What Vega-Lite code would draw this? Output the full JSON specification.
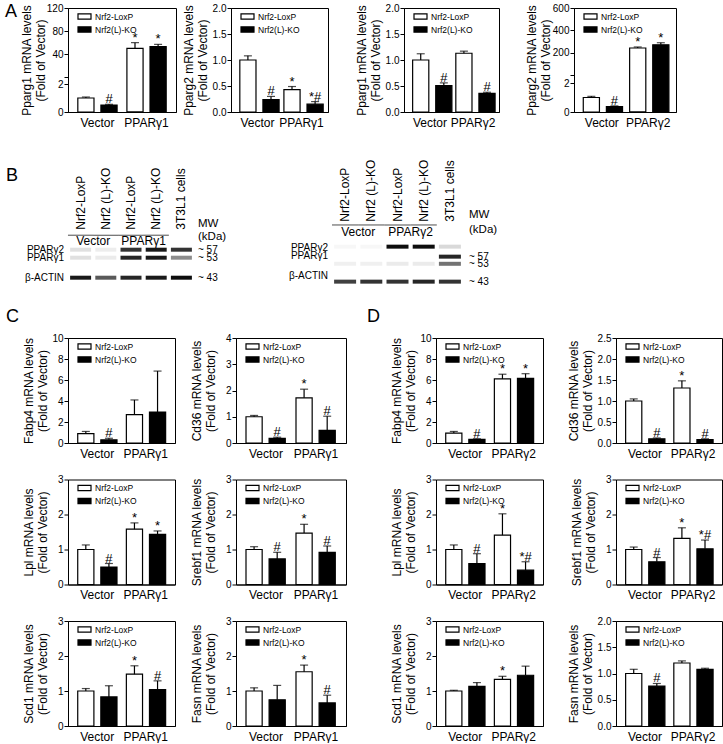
{
"$schema":"https://vega.github.io/schema/vega-lite/v6.json",
"padding":{"left":4,"top":2,"right":0,"bottom":0},
"config":{
 "font":"Liberation Sans",
 "view":{"stroke":"black","strokeWidth":1},
 "bar":{"stroke":"black","strokeWidth":1.2},
 "rule":{"color":"black","strokeWidth":1.2},
 "tick":{"color":"black","thickness":1.2,"size":8},
 "text":{"color":"black","fontSize":13},
 "scale":{"bandPaddingInner":0.36,"bandPaddingOuter":0.2,"offsetBandPaddingInner":0.3,"offsetBandPaddingOuter":0},
 "axis":{"grid":false,"domainColor":"black","tickColor":"black","labelColor":"black","titleColor":"black","titleFontWeight":"normal","domainWidth":1,"tickWidth":1},
 "axisX":{"ticks":false,"labelAngle":0,"labelFontSize":12,"labelPadding":5},
 "axisY":{"tickSize":4,"labelFontSize":10,"labelPadding":1,"titleFontSize":12,"titlePadding":2,"titleLineHeight":14,"titleX":-33},
 "legend":{"orient":"none","legendX":9,"legendY":1,"padding":0,"symbolType":"M-1,-0.4H1V0.4H-1Z","symbolSize":169,"symbolStrokeColor":"black","symbolStrokeWidth":1,"labelFontSize":8.5,"labelOffset":3,"rowPadding":0,"labelColor":"black"},
 "title":{"fontSize":18,"fontWeight":"normal","anchor":"start","frame":"group","baseline":"alphabetic","color":"black"}
},
"spacing":0,
"resolve":{"scale":{"fill":"independent","opacity":"independent"},"legend":{"fill":"independent"}},
"vconcat":[
{"spacing":0,"bounds":"flush",
 "resolve":{"scale":{"fill":"independent"},"legend":{"fill":"independent"}},
 "hconcat":[
{"width":108,"height":104,
 "title":{"text":"A","dx":-63,"offset":-17.7},
 "data":{"values":[{"g":"Vector","s":"Nrf2-LoxP","v":1.0,"hi":1.07,"sig":""},{"g":"Vector","s":"Nrf2(L)-KO","v":0.5,"hi":0.55,"sig":"#"},{"g":"PPARγ1","s":"Nrf2-LoxP","v":50,"hi":60,"sig":"*"},{"g":"PPARγ1","s":"Nrf2(L)-KO","v":53,"hi":57,"sig":"*"}]},
 "encoding":{"x":{"field":"g","type":"nominal","scale":{"domain":["Vector","PPARγ1"]},"title":null},"xOffset":{"field":"s","type":"nominal","scale":{"domain":["Nrf2-LoxP","Nrf2(L)-KO"]}}},
 "layer":[
  {"transform":[{"filter":"datum.v <= 2"}],
   "encoding":{"y":{"field":"v","type":"quantitative","scale":{"domain":[0,2],"range":[104,76],"nice":false},"axis":{"orient":"left","values":[0,1,2],"format":"d","title":null}}},
   "layer":[
    {"mark":"bar","encoding":{"fill":{"field":"s","type":"nominal","scale":{"domain":["Nrf2-LoxP","Nrf2(L)-KO"],"range":["white","black"]},"legend":{"title":null}}}},
    {"mark":"rule","encoding":{"y2":{"field":"hi"}}},
    {"mark":"tick","encoding":{"y":{"field":"hi","type":"quantitative"}}},
    {"mark":{"type":"text","baseline":"alphabetic","dy":-1},"encoding":{"y":{"field":"hi","type":"quantitative"},"text":{"field":"sig"}}}]},
  {"transform":[{"filter":"datum.v > 2"}],
   "encoding":{"y":{"field":"v","type":"quantitative","scale":{"domain":[-3,120],"range":[71,0],"nice":false,"zero":false},"axis":{"orient":"left","values":[0,40,80,120],"format":"d","labelExpr":"datum.value == 0 ? '' : datum.label","title":["Pparg1 mRNA levels","(Fold of Vector)"],"titleY":52,"titleX":-35}}},
   "layer":[
    {"mark":"bar","encoding":{"y2":{"datum":-60},"fill":{"field":"s","type":"nominal","scale":{"domain":["Nrf2-LoxP","Nrf2(L)-KO"],"range":["white","black"]},"legend":{"title":null}}}},
    {"mark":"rule","encoding":{"y2":{"field":"hi"}}},
    {"mark":"tick","encoding":{"y":{"field":"hi","type":"quantitative"}}},
    {"mark":{"type":"text","baseline":"alphabetic","dy":-1},"encoding":{"y":{"field":"hi","type":"quantitative"},"text":{"field":"sig"}}}]}],
 "resolve":{"scale":{"y":"independent"},"axis":{"y":"independent"}}},
{"width":55,"height":1,"view":{"stroke":null},"data":{"values":[]},"mark":"point"},
{"width":97,"height":104,
 "data":{"values":[{"g":"Vector","s":"Nrf2-LoxP","v":1.0,"hi":1.08,"sig":""},{"g":"Vector","s":"Nrf2(L)-KO","v":0.24,"hi":0.3,"sig":"#"},{"g":"PPARγ1","s":"Nrf2-LoxP","v":0.43,"hi":0.49,"sig":"*"},{"g":"PPARγ1","s":"Nrf2(L)-KO","v":0.15,"hi":0.2,"sig":"*#"}]},
 "encoding":{"x":{"field":"g","type":"nominal","scale":{"domain":["Vector","PPARγ1"]},"title":null},"xOffset":{"field":"s","type":"nominal","scale":{"domain":["Nrf2-LoxP","Nrf2(L)-KO"]}},"y":{"field":"v","type":"quantitative","scale":{"domain":[0,2],"nice":false},"axis":{"values":[0,0.5,1,1.5,2],"format":".1f","titleX":-36,"title":["Pparg2 mRNA levels","(Fold of Vector)"]}}},
 "layer":[
  {"mark":"bar","encoding":{"fill":{"field":"s","type":"nominal","scale":{"domain":["Nrf2-LoxP","Nrf2(L)-KO"],"range":["white","black"]},"legend":{"title":null}}}},
  {"mark":"rule","encoding":{"y2":{"field":"hi"}}},
  {"mark":"tick","encoding":{"y":{"field":"hi","type":"quantitative"}}},
  {"mark":{"type":"text","baseline":"alphabetic","dy":-1},"encoding":{"y":{"field":"hi","type":"quantitative"},"text":{"field":"sig"}}}]},
{"width":76,"height":1,"view":{"stroke":null},"data":{"values":[]},"mark":"point"},
{"width":95,"height":104,
 "data":{"values":[{"g":"Vector","s":"Nrf2-LoxP","v":1.0,"hi":1.12,"sig":""},{"g":"Vector","s":"Nrf2(L)-KO","v":0.51,"hi":0.56,"sig":"#"},{"g":"PPARγ2","s":"Nrf2-LoxP","v":1.13,"hi":1.17,"sig":""},{"g":"PPARγ2","s":"Nrf2(L)-KO","v":0.36,"hi":0.38,"sig":"#"}]},
 "encoding":{"x":{"field":"g","type":"nominal","scale":{"domain":["Vector","PPARγ2"]},"title":null},"xOffset":{"field":"s","type":"nominal","scale":{"domain":["Nrf2-LoxP","Nrf2(L)-KO"]}},"y":{"field":"v","type":"quantitative","scale":{"domain":[0,2],"nice":false},"axis":{"values":[0,0.5,1,1.5,2],"format":".1f","titleX":-36,"title":["Pparg1 mRNA levels","(Fold of Vector)"]}}},
 "layer":[
  {"mark":"bar","encoding":{"fill":{"field":"s","type":"nominal","scale":{"domain":["Nrf2-LoxP","Nrf2(L)-KO"],"range":["white","black"]},"legend":{"title":null}}}},
  {"mark":"rule","encoding":{"y2":{"field":"hi"}}},
  {"mark":"tick","encoding":{"y":{"field":"hi","type":"quantitative"}}},
  {"mark":{"type":"text","baseline":"alphabetic","dy":-1},"encoding":{"y":{"field":"hi","type":"quantitative"},"text":{"field":"sig"}}}]},
{"width":75,"height":1,"view":{"stroke":null},"data":{"values":[]},"mark":"point"},
{"width":102,"height":104,
 "data":{"values":[{"g":"Vector","s":"Nrf2-LoxP","v":1.0,"hi":1.08,"sig":""},{"g":"Vector","s":"Nrf2(L)-KO","v":0.38,"hi":0.42,"sig":"#"},{"g":"PPARγ2","s":"Nrf2-LoxP","v":242,"hi":251,"sig":"*"},{"g":"PPARγ2","s":"Nrf2(L)-KO","v":271,"hi":289,"sig":"*"}]},
 "encoding":{"x":{"field":"g","type":"nominal","scale":{"domain":["Vector","PPARγ2"]},"title":null},"xOffset":{"field":"s","type":"nominal","scale":{"domain":["Nrf2-LoxP","Nrf2(L)-KO"]}}},
 "layer":[
  {"transform":[{"filter":"datum.v <= 2"}],
   "encoding":{"y":{"field":"v","type":"quantitative","scale":{"domain":[0,2],"range":[104,75],"nice":false},"axis":{"orient":"left","values":[0,1,2],"format":"d","title":null}}},
   "layer":[
    {"mark":"bar","encoding":{"fill":{"field":"s","type":"nominal","scale":{"domain":["Nrf2-LoxP","Nrf2(L)-KO"],"range":["white","black"]},"legend":{"title":null}}}},
    {"mark":"rule","encoding":{"y2":{"field":"hi"}}},
    {"mark":"tick","encoding":{"y":{"field":"hi","type":"quantitative"}}},
    {"mark":{"type":"text","baseline":"alphabetic","dy":-1},"encoding":{"y":{"field":"hi","type":"quantitative"},"text":{"field":"sig"}}}]},
  {"transform":[{"filter":"datum.v > 2"}],
   "encoding":{"y":{"field":"v","type":"quantitative","scale":{"domain":[0,600],"range":[67,0],"nice":false,"zero":false},"axis":{"orient":"left","values":[0,200,400,600],"format":"d","labelExpr":"datum.value == 0 ? '' : datum.label","title":["Pparg2 mRNA levels","(Fold of Vector)"],"titleY":52,"titleX":-36}}},
   "layer":[
    {"mark":"bar","encoding":{"y2":{"datum":-331},"fill":{"field":"s","type":"nominal","scale":{"domain":["Nrf2-LoxP","Nrf2(L)-KO"],"range":["white","black"]},"legend":{"title":null}}}},
    {"mark":"rule","encoding":{"y2":{"field":"hi"}}},
    {"mark":"tick","encoding":{"y":{"field":"hi","type":"quantitative"}}},
    {"mark":{"type":"text","baseline":"alphabetic","dy":-1},"encoding":{"y":{"field":"hi","type":"quantitative"},"text":{"field":"sig"}}}]}],
 "resolve":{"scale":{"y":"independent"},"axis":{"y":"independent"}}}
]},

{"spacing":0,"bounds":"flush",
 "resolve":{"scale":{"opacity":"independent"}},
 "hconcat":[
{"width":126,"height":178,"view":{"stroke":null},
 "title":{"text":"B","dx":-62,"offset":-56},
 "layer":[
  {"data":{"values":[
    {"lane":"L1","kDa":57,"signal":0.12},{"lane":"L2","kDa":57,"signal":0.07},{"lane":"L3","kDa":57,"signal":0.8},{"lane":"L4","kDa":57,"signal":0.9},{"lane":"L5","kDa":57,"signal":0.8},
    {"lane":"L1","kDa":53,"signal":0.12},{"lane":"L2","kDa":53,"signal":0.08},{"lane":"L3","kDa":53,"signal":0.85},{"lane":"L4","kDa":53,"signal":0.9},{"lane":"L5","kDa":53,"signal":0.45},
    {"lane":"L1","kDa":43,"signal":0.9},{"lane":"L2","kDa":43,"signal":0.65},{"lane":"L3","kDa":43,"signal":0.85},{"lane":"L4","kDa":43,"signal":0.9},{"lane":"L5","kDa":43,"signal":0.95}]},
   "mark":{"type":"tick","orient":"horizontal","thickness":4,"size":21,"color":"black"},
   "encoding":{"x":{"field":"lane","type":"nominal","scale":{"domain":["L1","L2","L3","L4","L5"],"paddingInner":0,"paddingOuter":0},"axis":null},
    "y":{"field":"kDa","type":"quantitative","scale":{"domain":[28.35,117.35],"nice":false,"zero":false},"axis":null},
    "opacity":{"field":"signal","type":"quantitative","scale":{"domain":[0,1],"range":[0,1]},"legend":null}}},
  {"data":{"values":[{"lane":"L1","sample":"Nrf2-LoxP","grp":"Vector"},{"lane":"L2","sample":"Nrf2 (L)-KO","grp":"Vector"},{"lane":"L3","sample":"Nrf2-LoxP","grp":"PPARγ1"},{"lane":"L4","sample":"Nrf2 (L)-KO","grp":"PPARγ1"},{"lane":"L5","sample":"3T3L1 cells","grp":""}]},
   "mark":{"type":"text","angle":270,"align":"left","baseline":"middle","fontSize":12},
   "encoding":{"x":{"field":"lane","type":"nominal","axis":null},"y":{"datum":67.0,"type":"quantitative","axis":null},"text":{"field":"sample"}}},
  {"data":{"values":[{"lane":"L1","grp":"Vector"},{"lane":"L2","grp":"Vector"},{"lane":"L3","grp":"PPARγ1"},{"lane":"L4","grp":"PPARγ1"}]},
   "mark":{"type":"tick","orient":"horizontal","thickness":1,"size":25.3,"color":"black"},
   "encoding":{"x":{"field":"lane","type":"nominal","axis":null},"y":{"datum":64.25,"type":"quantitative","axis":null}}},
  {"data":{"values":[{"lane":"L2","grp":"Vector"},{"lane":"L4","grp":"PPARγ1"}]},
   "mark":{"type":"text","baseline":"middle","align":"center","fontSize":12},
   "encoding":{"x":{"field":"lane","type":"nominal","bandPosition":0,"axis":null},"y":{"datum":61.25,"type":"quantitative","axis":null},"text":{"field":"grp"}}},
  {"data":{"values":[{"lab":"PPARγ2","kDa":57},{"lab":"PPARγ1","kDa":53},{"lab":"β-ACTIN","kDa":43}]},
   "mark":{"type":"text","align":"right","baseline":"middle","fontSize":10,"dx":-4},
   "encoding":{"x":{"datum":"L1","bandPosition":0,"axis":null},"y":{"field":"kDa","type":"quantitative","axis":null},"text":{"field":"lab"}}},
  {"data":{"values":[{"lab":"~ 57","kDa":57},{"lab":"~ 53","kDa":53},{"lab":"~ 43","kDa":43}]},
   "mark":{"type":"text","align":"left","baseline":"middle","fontSize":10,"dx":4},
   "encoding":{"x":{"datum":"L5","bandPosition":1,"axis":null},"y":{"field":"kDa","type":"quantitative","axis":null},"text":{"field":"lab"}}},
  {"data":{"values":[{"t":"MW"}]},
   "mark":{"type":"text","align":"left","baseline":"middle","fontSize":11.5,"dx":4},
   "encoding":{"x":{"datum":"L5","bandPosition":1,"axis":null},"y":{"datum":69.75,"type":"quantitative","axis":null},"text":{"field":"t"}}},
  {"data":{"values":[{"t":"(kDa)"}]},
   "mark":{"type":"text","align":"left","baseline":"middle","fontSize":11.5,"dx":4},
   "encoding":{"x":{"datum":"L5","bandPosition":1,"axis":null},"y":{"datum":63.5,"type":"quantitative","axis":null},"text":{"field":"t"}}}]},
{"width":138,"height":1,"view":{"stroke":null},"data":{"values":[]},"mark":"point"},
{"width":131,"height":178,"view":{"stroke":null},
 "layer":[
  {"data":{"values":[
    {"lane":"L1","kDa":62.6,"signal":0.03},{"lane":"L2","kDa":62.6,"signal":0.03},{"lane":"L3","kDa":62.6,"signal":0.95},{"lane":"L4","kDa":62.6,"signal":0.95},{"lane":"L5","kDa":62.6,"signal":0.15},
    {"lane":"L5","kDa":57,"signal":0.85},
    {"lane":"L1","kDa":53,"signal":0.06},{"lane":"L2","kDa":53,"signal":0.06},{"lane":"L3","kDa":53,"signal":0.08},{"lane":"L4","kDa":53,"signal":0.08},{"lane":"L5","kDa":53,"signal":0.55},
    {"lane":"L1","kDa":43,"signal":0.75},{"lane":"L2","kDa":43,"signal":0.8},{"lane":"L3","kDa":43,"signal":0.8},{"lane":"L4","kDa":43,"signal":0.85},{"lane":"L5","kDa":43,"signal":0.8}]},
   "mark":{"type":"tick","orient":"horizontal","thickness":4,"size":22,"color":"black"},
   "encoding":{"x":{"field":"lane","type":"nominal","scale":{"domain":["L1","L2","L3","L4","L5"],"paddingInner":0,"paddingOuter":0},"axis":null},
    "y":{"field":"kDa","type":"quantitative","scale":{"domain":[28.8,128.5],"nice":false,"zero":false},"axis":null},
    "opacity":{"field":"signal","type":"quantitative","scale":{"domain":[0,1],"range":[0,1]},"legend":null}}},
  {"data":{"values":[{"lane":"L1","sample":"Nrf2-LoxP","grp":"Vector"},{"lane":"L2","sample":"Nrf2 (L)-KO","grp":"Vector"},{"lane":"L3","sample":"Nrf2-LoxP","grp":"PPARγ2"},{"lane":"L4","sample":"Nrf2 (L)-KO","grp":"PPARγ2"},{"lane":"L5","sample":"3T3L1 cells","grp":""}]},
   "mark":{"type":"text","angle":270,"align":"left","baseline":"middle","fontSize":12},
   "encoding":{"x":{"field":"lane","type":"nominal","axis":null},"y":{"datum":76.6,"type":"quantitative","axis":null},"text":{"field":"sample"}}},
  {"data":{"values":[{"lane":"L1","grp":"Vector"},{"lane":"L2","grp":"Vector"},{"lane":"L3","grp":"PPARγ2"},{"lane":"L4","grp":"PPARγ2"}]},
   "mark":{"type":"tick","orient":"horizontal","thickness":1,"size":26.2,"color":"black"},
   "encoding":{"x":{"field":"lane","type":"nominal","axis":null},"y":{"datum":74.75,"type":"quantitative","axis":null}}},
  {"data":{"values":[{"lane":"L2","grp":"Vector"},{"lane":"L4","grp":"PPARγ2"}]},
   "mark":{"type":"text","baseline":"middle","align":"center","fontSize":12},
   "encoding":{"x":{"field":"lane","type":"nominal","bandPosition":0,"axis":null},"y":{"datum":71.0,"type":"quantitative","axis":null},"text":{"field":"grp"}}},
  {"data":{"values":[{"lab":"PPARγ2","kDa":62.0},{"lab":"PPARγ1","kDa":57.6},{"lab":"β-ACTIN","kDa":46}]},
   "mark":{"type":"text","align":"right","baseline":"middle","fontSize":10,"dx":-4},
   "encoding":{"x":{"datum":"L1","bandPosition":0,"axis":null},"y":{"field":"kDa","type":"quantitative","axis":null},"text":{"field":"lab"}}},
  {"data":{"values":[{"lab":"~ 57","kDa":57},{"lab":"~ 53","kDa":53},{"lab":"~ 43","kDa":43}]},
   "mark":{"type":"text","align":"left","baseline":"middle","fontSize":10,"dx":6},
   "encoding":{"x":{"datum":"L5","bandPosition":1,"axis":null},"y":{"field":"kDa","type":"quantitative","axis":null},"text":{"field":"lab"}}},
  {"data":{"values":[{"t":"MW"}]},
   "mark":{"type":"text","align":"left","baseline":"middle","fontSize":11.5,"dx":6},
   "encoding":{"x":{"datum":"L5","bandPosition":1,"axis":null},"y":{"datum":80.5,"type":"quantitative","axis":null},"text":{"field":"t"}}},
  {"data":{"values":[{"t":"(kDa)"}]},
   "mark":{"type":"text","align":"left","baseline":"middle","fontSize":11.5,"dx":6},
   "encoding":{"x":{"datum":"L5","bandPosition":1,"axis":null},"y":{"datum":72.1,"type":"quantitative","axis":null},"text":{"field":"t"}}}]}
]},

{"columns":7,"spacing":{"row":36.5,"column":0},"bounds":"flush",
 "resolve":{"scale":{"fill":"independent"},"legend":{"fill":"independent"}},
 "concat":[
{"width":107,"height":105,
 "title":{"text":"C","dx":-62,"offset":7.5},
 "data":{"values":[{"g":"Vector","s":"Nrf2-LoxP","v":0.9,"hi":1.1,"sig":""},{"g":"Vector","s":"Nrf2(L)-KO","v":0.3,"hi":0.45,"sig":"#"},{"g":"PPARγ1","s":"Nrf2-LoxP","v":2.7,"hi":4.1,"sig":""},{"g":"PPARγ1","s":"Nrf2(L)-KO","v":2.95,"hi":6.85,"sig":""}]},
 "encoding":{"x":{"field":"g","type":"nominal","scale":{"domain":["Vector","PPARγ1"]},"title":null},"xOffset":{"field":"s","type":"nominal","scale":{"domain":["Nrf2-LoxP","Nrf2(L)-KO"]}},"y":{"field":"v","type":"quantitative","scale":{"domain":[0,10],"nice":false},"axis":{"values":[0,2,4,6,8,10],"format":"d","title":["Fabp4 mRNA levels","(Fold of Vector)"]}}},
 "layer":[
  {"mark":"bar","encoding":{"fill":{"field":"s","type":"nominal","scale":{"domain":["Nrf2-LoxP","Nrf2(L)-KO"],"range":["white","black"]},"legend":{"title":null}}}},
  {"mark":"rule","encoding":{"y2":{"field":"hi"}}},
  {"mark":"tick","encoding":{"y":{"field":"hi","type":"quantitative"}}},
  {"mark":{"type":"text","baseline":"alphabetic","dy":-1},"encoding":{"y":{"field":"hi","type":"quantitative"},"text":{"field":"sig"}}}]},
{"width":61,"height":1,"view":{"stroke":null},"data":{"values":[]},"mark":"point"},
{"width":110,"height":105,
 "data":{"values":[{"g":"Vector","s":"Nrf2-LoxP","v":1.0,"hi":1.05,"sig":""},{"g":"Vector","s":"Nrf2(L)-KO","v":0.18,"hi":0.22,"sig":"#"},{"g":"PPARγ1","s":"Nrf2-LoxP","v":1.72,"hi":2.05,"sig":"*"},{"g":"PPARγ1","s":"Nrf2(L)-KO","v":0.48,"hi":1.02,"sig":"#"}]},
 "encoding":{"x":{"field":"g","type":"nominal","scale":{"domain":["Vector","PPARγ1"]},"title":null},"xOffset":{"field":"s","type":"nominal","scale":{"domain":["Nrf2-LoxP","Nrf2(L)-KO"]}},"y":{"field":"v","type":"quantitative","scale":{"domain":[0,4],"nice":false},"axis":{"values":[0,1,2,3,4],"format":"d","title":["Cd36 mRNA levels","(Fold of Vector)"]}}},
 "layer":[
  {"mark":"bar","encoding":{"fill":{"field":"s","type":"nominal","scale":{"domain":["Nrf2-LoxP","Nrf2(L)-KO"],"range":["white","black"]},"legend":{"title":null}}}},
  {"mark":"rule","encoding":{"y2":{"field":"hi"}}},
  {"mark":"tick","encoding":{"y":{"field":"hi","type":"quantitative"}}},
  {"mark":{"type":"text","baseline":"alphabetic","dy":-1},"encoding":{"y":{"field":"hi","type":"quantitative"},"text":{"field":"sig"}}}]},
{"width":90,"height":1,"view":{"stroke":null},"data":{"values":[]},"mark":"point"},
{"width":107,"height":105,
 "title":{"text":"D","dx":-69,"offset":7.5},
 "data":{"values":[{"g":"Vector","s":"Nrf2-LoxP","v":0.95,"hi":1.1,"sig":""},{"g":"Vector","s":"Nrf2(L)-KO","v":0.35,"hi":0.4,"sig":"#"},{"g":"PPARγ2","s":"Nrf2-LoxP","v":6.1,"hi":6.55,"sig":"*"},{"g":"PPARγ2","s":"Nrf2(L)-KO","v":6.15,"hi":6.6,"sig":"*"}]},
 "encoding":{"x":{"field":"g","type":"nominal","scale":{"domain":["Vector","PPARγ2"]},"title":null},"xOffset":{"field":"s","type":"nominal","scale":{"domain":["Nrf2-LoxP","Nrf2(L)-KO"]}},"y":{"field":"v","type":"quantitative","scale":{"domain":[0,10],"nice":false},"axis":{"values":[0,2,4,6,8,10],"format":"d","title":["Fabp4 mRNA levels","(Fold of Vector)"]}}},
 "layer":[
  {"mark":"bar","encoding":{"fill":{"field":"s","type":"nominal","scale":{"domain":["Nrf2-LoxP","Nrf2(L)-KO"],"range":["white","black"]},"legend":{"title":null}}}},
  {"mark":"rule","encoding":{"y2":{"field":"hi"}}},
  {"mark":"tick","encoding":{"y":{"field":"hi","type":"quantitative"}}},
  {"mark":{"type":"text","baseline":"alphabetic","dy":-1},"encoding":{"y":{"field":"hi","type":"quantitative"},"text":{"field":"sig"}}}]},
{"width":73,"height":1,"view":{"stroke":null},"data":{"values":[]},"mark":"point"},
{"width":106,"height":105,
 "data":{"values":[{"g":"Vector","s":"Nrf2-LoxP","v":1.0,"hi":1.05,"sig":""},{"g":"Vector","s":"Nrf2(L)-KO","v":0.1,"hi":0.12,"sig":"#"},{"g":"PPARγ2","s":"Nrf2-LoxP","v":1.31,"hi":1.48,"sig":"*"},{"g":"PPARγ2","s":"Nrf2(L)-KO","v":0.08,"hi":0.1,"sig":"#"}]},
 "encoding":{"x":{"field":"g","type":"nominal","scale":{"domain":["Vector","PPARγ2"]},"title":null},"xOffset":{"field":"s","type":"nominal","scale":{"domain":["Nrf2-LoxP","Nrf2(L)-KO"]}},"y":{"field":"v","type":"quantitative","scale":{"domain":[0,2.5],"nice":false},"axis":{"values":[0,0.5,1,1.5,2,2.5],"format":".1f","titleX":-36,"title":["Cd36 mRNA levels","(Fold of Vector)"]}}},
 "layer":[
  {"mark":"bar","encoding":{"fill":{"field":"s","type":"nominal","scale":{"domain":["Nrf2-LoxP","Nrf2(L)-KO"],"range":["white","black"]},"legend":{"title":null}}}},
  {"mark":"rule","encoding":{"y2":{"field":"hi"}}},
  {"mark":"tick","encoding":{"y":{"field":"hi","type":"quantitative"}}},
  {"mark":{"type":"text","baseline":"alphabetic","dy":-1},"encoding":{"y":{"field":"hi","type":"quantitative"},"text":{"field":"sig"}}}]},

{"width":107,"height":105,
 "data":{"values":[{"g":"Vector","s":"Nrf2-LoxP","v":1.0,"hi":1.13,"sig":""},{"g":"Vector","s":"Nrf2(L)-KO","v":0.5,"hi":0.6,"sig":"#"},{"g":"PPARγ1","s":"Nrf2-LoxP","v":1.58,"hi":1.76,"sig":"*"},{"g":"PPARγ1","s":"Nrf2(L)-KO","v":1.43,"hi":1.53,"sig":"*"}]},
 "encoding":{"x":{"field":"g","type":"nominal","scale":{"domain":["Vector","PPARγ1"]},"title":null},"xOffset":{"field":"s","type":"nominal","scale":{"domain":["Nrf2-LoxP","Nrf2(L)-KO"]}},"y":{"field":"v","type":"quantitative","scale":{"domain":[0,3],"nice":false},"axis":{"values":[0,1,2,3],"format":"d","title":["Lpl mRNA levels","(Fold of Vector)"]}}},
 "layer":[
  {"mark":"bar","encoding":{"fill":{"field":"s","type":"nominal","scale":{"domain":["Nrf2-LoxP","Nrf2(L)-KO"],"range":["white","black"]},"legend":{"title":null}}}},
  {"mark":"rule","encoding":{"y2":{"field":"hi"}}},
  {"mark":"tick","encoding":{"y":{"field":"hi","type":"quantitative"}}},
  {"mark":{"type":"text","baseline":"alphabetic","dy":-1},"encoding":{"y":{"field":"hi","type":"quantitative"},"text":{"field":"sig"}}}]},
{"width":61,"height":1,"view":{"stroke":null},"data":{"values":[]},"mark":"point"},
{"width":110,"height":105,
 "data":{"values":[{"g":"Vector","s":"Nrf2-LoxP","v":1.0,"hi":1.08,"sig":""},{"g":"Vector","s":"Nrf2(L)-KO","v":0.73,"hi":0.92,"sig":"#"},{"g":"PPARγ1","s":"Nrf2-LoxP","v":1.47,"hi":1.72,"sig":"*"},{"g":"PPARγ1","s":"Nrf2(L)-KO","v":0.92,"hi":1.1,"sig":"#"}]},
 "encoding":{"x":{"field":"g","type":"nominal","scale":{"domain":["Vector","PPARγ1"]},"title":null},"xOffset":{"field":"s","type":"nominal","scale":{"domain":["Nrf2-LoxP","Nrf2(L)-KO"]}},"y":{"field":"v","type":"quantitative","scale":{"domain":[0,3],"nice":false},"axis":{"values":[0,1,2,3],"format":"d","title":["Srebf1 mRNA levels","(Fold of Vector)"]}}},
 "layer":[
  {"mark":"bar","encoding":{"fill":{"field":"s","type":"nominal","scale":{"domain":["Nrf2-LoxP","Nrf2(L)-KO"],"range":["white","black"]},"legend":{"title":null}}}},
  {"mark":"rule","encoding":{"y2":{"field":"hi"}}},
  {"mark":"tick","encoding":{"y":{"field":"hi","type":"quantitative"}}},
  {"mark":{"type":"text","baseline":"alphabetic","dy":-1},"encoding":{"y":{"field":"hi","type":"quantitative"},"text":{"field":"sig"}}}]},
{"width":90,"height":1,"view":{"stroke":null},"data":{"values":[]},"mark":"point"},
{"width":107,"height":105,
 "data":{"values":[{"g":"Vector","s":"Nrf2-LoxP","v":1.0,"hi":1.13,"sig":""},{"g":"Vector","s":"Nrf2(L)-KO","v":0.6,"hi":0.88,"sig":"#"},{"g":"PPARγ2","s":"Nrf2-LoxP","v":1.41,"hi":2.02,"sig":"*"},{"g":"PPARγ2","s":"Nrf2(L)-KO","v":0.41,"hi":0.65,"sig":"*#"}]},
 "encoding":{"x":{"field":"g","type":"nominal","scale":{"domain":["Vector","PPARγ2"]},"title":null},"xOffset":{"field":"s","type":"nominal","scale":{"domain":["Nrf2-LoxP","Nrf2(L)-KO"]}},"y":{"field":"v","type":"quantitative","scale":{"domain":[0,3],"nice":false},"axis":{"values":[0,1,2,3],"format":"d","title":["Lpl mRNA levels","(Fold of Vector)"]}}},
 "layer":[
  {"mark":"bar","encoding":{"fill":{"field":"s","type":"nominal","scale":{"domain":["Nrf2-LoxP","Nrf2(L)-KO"],"range":["white","black"]},"legend":{"title":null}}}},
  {"mark":"rule","encoding":{"y2":{"field":"hi"}}},
  {"mark":"tick","encoding":{"y":{"field":"hi","type":"quantitative"}}},
  {"mark":{"type":"text","baseline":"alphabetic","dy":-1},"encoding":{"y":{"field":"hi","type":"quantitative"},"text":{"field":"sig"}}}]},
{"width":73,"height":1,"view":{"stroke":null},"data":{"values":[]},"mark":"point"},
{"width":106,"height":105,
 "data":{"values":[{"g":"Vector","s":"Nrf2-LoxP","v":1.0,"hi":1.07,"sig":""},{"g":"Vector","s":"Nrf2(L)-KO","v":0.65,"hi":0.77,"sig":"#"},{"g":"PPARγ2","s":"Nrf2-LoxP","v":1.32,"hi":1.62,"sig":"*"},{"g":"PPARγ2","s":"Nrf2(L)-KO","v":1.02,"hi":1.27,"sig":"*#"}]},
 "encoding":{"x":{"field":"g","type":"nominal","scale":{"domain":["Vector","PPARγ2"]},"title":null},"xOffset":{"field":"s","type":"nominal","scale":{"domain":["Nrf2-LoxP","Nrf2(L)-KO"]}},"y":{"field":"v","type":"quantitative","scale":{"domain":[0,3],"nice":false},"axis":{"values":[0,1,2,3],"format":"d","title":["Srebf1 mRNA levels","(Fold of Vector)"]}}},
 "layer":[
  {"mark":"bar","encoding":{"fill":{"field":"s","type":"nominal","scale":{"domain":["Nrf2-LoxP","Nrf2(L)-KO"],"range":["white","black"]},"legend":{"title":null}}}},
  {"mark":"rule","encoding":{"y2":{"field":"hi"}}},
  {"mark":"tick","encoding":{"y":{"field":"hi","type":"quantitative"}}},
  {"mark":{"type":"text","baseline":"alphabetic","dy":-1},"encoding":{"y":{"field":"hi","type":"quantitative"},"text":{"field":"sig"}}}]},

{"width":107,"height":105,
 "data":{"values":[{"g":"Vector","s":"Nrf2-LoxP","v":1.0,"hi":1.07,"sig":""},{"g":"Vector","s":"Nrf2(L)-KO","v":0.83,"hi":1.15,"sig":""},{"g":"PPARγ1","s":"Nrf2-LoxP","v":1.48,"hi":1.72,"sig":"*"},{"g":"PPARγ1","s":"Nrf2(L)-KO","v":1.04,"hi":1.29,"sig":"#"}]},
 "encoding":{"x":{"field":"g","type":"nominal","scale":{"domain":["Vector","PPARγ1"]},"title":null},"xOffset":{"field":"s","type":"nominal","scale":{"domain":["Nrf2-LoxP","Nrf2(L)-KO"]}},"y":{"field":"v","type":"quantitative","scale":{"domain":[0,3],"nice":false},"axis":{"values":[0,1,2,3],"format":"d","title":["Scd1 mRNA levels","(Fold of Vector)"]}}},
 "layer":[
  {"mark":"bar","encoding":{"fill":{"field":"s","type":"nominal","scale":{"domain":["Nrf2-LoxP","Nrf2(L)-KO"],"range":["white","black"]},"legend":{"title":null}}}},
  {"mark":"rule","encoding":{"y2":{"field":"hi"}}},
  {"mark":"tick","encoding":{"y":{"field":"hi","type":"quantitative"}}},
  {"mark":{"type":"text","baseline":"alphabetic","dy":-1},"encoding":{"y":{"field":"hi","type":"quantitative"},"text":{"field":"sig"}}}]},
{"width":61,"height":1,"view":{"stroke":null},"data":{"values":[]},"mark":"point"},
{"width":110,"height":105,
 "data":{"values":[{"g":"Vector","s":"Nrf2-LoxP","v":1.0,"hi":1.09,"sig":""},{"g":"Vector","s":"Nrf2(L)-KO","v":0.75,"hi":1.16,"sig":""},{"g":"PPARγ1","s":"Nrf2-LoxP","v":1.55,"hi":1.74,"sig":"*"},{"g":"PPARγ1","s":"Nrf2(L)-KO","v":0.66,"hi":0.88,"sig":"#"}]},
 "encoding":{"x":{"field":"g","type":"nominal","scale":{"domain":["Vector","PPARγ1"]},"title":null},"xOffset":{"field":"s","type":"nominal","scale":{"domain":["Nrf2-LoxP","Nrf2(L)-KO"]}},"y":{"field":"v","type":"quantitative","scale":{"domain":[0,3],"nice":false},"axis":{"values":[0,1,2,3],"format":"d","title":["Fasn mRNA levels","(Fold of Vector)"]}}},
 "layer":[
  {"mark":"bar","encoding":{"fill":{"field":"s","type":"nominal","scale":{"domain":["Nrf2-LoxP","Nrf2(L)-KO"],"range":["white","black"]},"legend":{"title":null}}}},
  {"mark":"rule","encoding":{"y2":{"field":"hi"}}},
  {"mark":"tick","encoding":{"y":{"field":"hi","type":"quantitative"}}},
  {"mark":{"type":"text","baseline":"alphabetic","dy":-1},"encoding":{"y":{"field":"hi","type":"quantitative"},"text":{"field":"sig"}}}]},
{"width":90,"height":1,"view":{"stroke":null},"data":{"values":[]},"mark":"point"},
{"width":107,"height":105,
 "data":{"values":[{"g":"Vector","s":"Nrf2-LoxP","v":1.0,"hi":1.02,"sig":""},{"g":"Vector","s":"Nrf2(L)-KO","v":1.13,"hi":1.24,"sig":""},{"g":"PPARγ2","s":"Nrf2-LoxP","v":1.33,"hi":1.42,"sig":"*"},{"g":"PPARγ2","s":"Nrf2(L)-KO","v":1.45,"hi":1.71,"sig":""}]},
 "encoding":{"x":{"field":"g","type":"nominal","scale":{"domain":["Vector","PPARγ2"]},"title":null},"xOffset":{"field":"s","type":"nominal","scale":{"domain":["Nrf2-LoxP","Nrf2(L)-KO"]}},"y":{"field":"v","type":"quantitative","scale":{"domain":[0,3],"nice":false},"axis":{"values":[0,1,2,3],"format":"d","title":["Scd1 mRNA levels","(Fold of Vector)"]}}},
 "layer":[
  {"mark":"bar","encoding":{"fill":{"field":"s","type":"nominal","scale":{"domain":["Nrf2-LoxP","Nrf2(L)-KO"],"range":["white","black"]},"legend":{"title":null}}}},
  {"mark":"rule","encoding":{"y2":{"field":"hi"}}},
  {"mark":"tick","encoding":{"y":{"field":"hi","type":"quantitative"}}},
  {"mark":{"type":"text","baseline":"alphabetic","dy":-1},"encoding":{"y":{"field":"hi","type":"quantitative"},"text":{"field":"sig"}}}]},
{"width":73,"height":1,"view":{"stroke":null},"data":{"values":[]},"mark":"point"},
{"width":106,"height":105,
 "data":{"values":[{"g":"Vector","s":"Nrf2-LoxP","v":1.0,"hi":1.08,"sig":""},{"g":"Vector","s":"Nrf2(L)-KO","v":0.76,"hi":0.81,"sig":"#"},{"g":"PPARγ2","s":"Nrf2-LoxP","v":1.2,"hi":1.24,"sig":""},{"g":"PPARγ2","s":"Nrf2(L)-KO","v":1.08,"hi":1.1,"sig":""}]},
 "encoding":{"x":{"field":"g","type":"nominal","scale":{"domain":["Vector","PPARγ2"]},"title":null},"xOffset":{"field":"s","type":"nominal","scale":{"domain":["Nrf2-LoxP","Nrf2(L)-KO"]}},"y":{"field":"v","type":"quantitative","scale":{"domain":[0,2],"nice":false},"axis":{"values":[0,0.5,1,1.5,2],"format":".1f","titleX":-36,"title":["Fasn mRNA levels","(Fold of Vector)"]}}},
 "layer":[
  {"mark":"bar","encoding":{"fill":{"field":"s","type":"nominal","scale":{"domain":["Nrf2-LoxP","Nrf2(L)-KO"],"range":["white","black"]},"legend":{"title":null}}}},
  {"mark":"rule","encoding":{"y2":{"field":"hi"}}},
  {"mark":"tick","encoding":{"y":{"field":"hi","type":"quantitative"}}},
  {"mark":{"type":"text","baseline":"alphabetic","dy":-1},"encoding":{"y":{"field":"hi","type":"quantitative"},"text":{"field":"sig"}}}]}
]}
]
}
